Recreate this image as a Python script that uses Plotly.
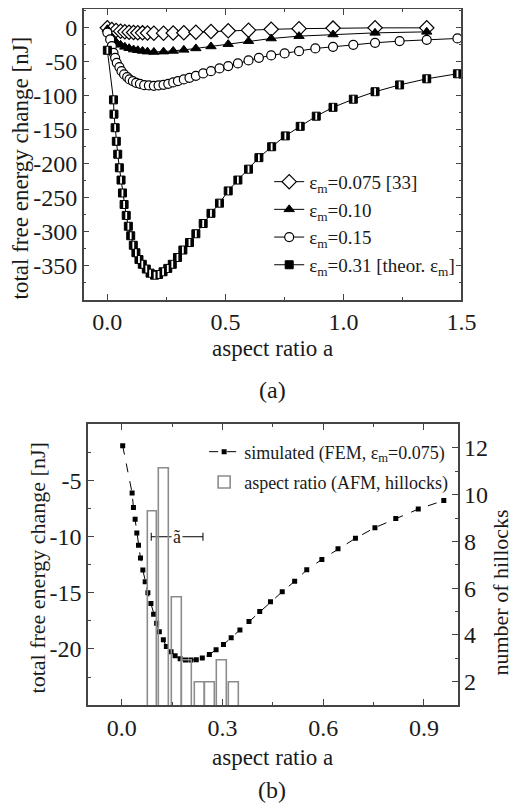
import plotly.graph_objects as go

# ---------------- Panel (a) data ----------------
eps0075_x = [0.0, 0.019, 0.037, 0.056, 0.074, 0.092, 0.111, 0.129, 0.149, 0.17, 0.197, 0.238,
             0.279, 0.324, 0.375, 0.439, 0.512, 0.598, 0.694, 0.812, 0.956, 1.134, 1.353]
eps0075_y = [0.0, -2.4, -3.8, -4.9, -5.9, -6.4, -6.8, -7.2, -7.4, -7.6, -7.8, -7.8,
             -7.6, -7.2, -6.4, -5.4, -4.4, -3.4, -2.2, -1.2, -0.4, 0.0, 0.0]

eps010_x = eps0075_x
eps010_y = [-2.0, -14.0, -21.0, -25.0, -28.0, -30.0, -32.0, -33.0, -34.0, -35.0, -35.5, -35.0,
            -34.0, -32.4, -30.3, -27.4, -24.0, -19.6, -15.7, -12.2, -9.8, -7.4, -5.9]

eps015_x = [0.0, 0.012, 0.019, 0.026, 0.033, 0.04, 0.051, 0.06, 0.071, 0.084, 0.094, 0.108,
            0.122, 0.138, 0.156, 0.176, 0.197, 0.217, 0.238, 0.258, 0.279, 0.299, 0.324, 0.348,
            0.375, 0.406, 0.439, 0.475, 0.512, 0.553, 0.598, 0.642, 0.694, 0.751, 0.812, 0.881,
            0.956, 1.042, 1.134, 1.238, 1.353, 1.483]
eps015_y = [-7.0, -17.1, -26.9, -36.8, -44.1, -51.5, -57.8, -63.7, -68.5, -72.5, -75.9, -78.4,
            -80.9, -82.4, -84.3, -84.7, -85.3, -84.7, -83.8, -82.4, -80.3, -78.4, -75.9, -73.5,
            -70.6, -67.1, -63.7, -59.7, -56.3, -52.3, -47.9, -44.1, -40.6, -37.6, -34.3, -30.3,
            -27.9, -25.0, -22.0, -19.5, -17.6, -15.6]

eps031_x = [0.0, 0.026, 0.028, 0.033, 0.038, 0.044, 0.051, 0.058, 0.064, 0.071, 0.080, 0.089,
            0.099, 0.110, 0.121, 0.134, 0.148, 0.165, 0.181, 0.200, 0.217, 0.236, 0.256, 0.275,
            0.297, 0.320, 0.348, 0.375, 0.406, 0.439, 0.475, 0.512, 0.553, 0.598, 0.642, 0.696,
            0.754, 0.817, 0.885, 0.956, 1.042, 1.134, 1.238, 1.353, 1.483]
eps031_y = [-33, -106, -127, -147, -167, -186, -206, -224, -243, -260, -276, -292,
            -306, -320, -331, -341, -348, -355, -361, -364, -363, -359, -354, -348,
            -338, -327, -316, -303, -288, -273, -258, -240, -224, -208, -191, -175,
            -159, -145, -130, -117, -105, -94, -84, -75, -67.6]

a_xticks = [0.0, 0.5, 1.0, 1.5]
a_xticktext = ["0.0", "0.5", "1.0", "1.5"]
a_yticks = [0, -50, -100, -150, -200, -250, -300, -350]
a_yticktext = ["0", "-50", "-100", "-150", "-200", "-250", "-300", "-350"]

# ---------------- Panel (b) data ----------------
fem_x = [0.003, 0.031, 0.035, 0.040, 0.045, 0.050, 0.056, 0.063, 0.070, 0.078, 0.087, 0.095,
         0.104, 0.112, 0.124, 0.133, 0.147, 0.159, 0.174, 0.190, 0.206, 0.222, 0.240, 0.261,
         0.281, 0.303, 0.326, 0.352, 0.379, 0.411, 0.443, 0.478, 0.515, 0.551, 0.596, 0.644,
         0.696, 0.754, 0.816, 0.883, 0.959]
fem_y = [-1.9, -6.1, -7.4, -8.45, -9.67, -10.75, -11.9, -12.97, -14.0, -15.0, -15.95, -16.9,
         -17.7, -18.47, -19.18, -19.77, -20.24, -20.6, -20.86, -20.98, -20.98, -20.95, -20.8, -20.5,
         -20.06, -19.6, -19.0, -18.3, -17.56, -16.67, -15.8, -14.9, -13.97, -12.95, -12.02, -11.08,
         -10.14, -9.19, -8.37, -7.54, -6.77]

hist_x = [0.092, 0.127, 0.164, 0.195, 0.234, 0.264, 0.300, 0.334]
hist_counts = [9.3, 11.1, 5.6, 2.9, 1.95, 1.95, 2.9, 1.95]
hist_width = 0.029

atilde_mean = 0.165
atilde_std = 0.077
atilde_y = -10.0

b_xticks = [0.0, 0.3, 0.6, 0.9]
b_xticktext = ["0.0", "0.3", "0.6", "0.9"]
b_yticks = [-5, -10, -15, -20]
b_yticktext = ["-5", "-10", "-15", "-20"]
b_y2ticks = [2, 4, 6, 8, 10, 12]

FONT = "Liberation Serif, Times New Roman, serif"
AX = "#444444"
TXT = "#1a1a1a"

# the page body has an 8px margin; size the figure to fill the rest of the window
OFF = 8
W, H = 525 - OFF, 805 - OFF


def px_x(p):
    return (p - OFF) / W


def px_y(p):
    return 1 - (p - OFF) / H


fig = go.Figure()

# panel (a) traces
fig.add_trace(go.Scatter(
    x=eps0075_x, y=eps0075_y, mode="lines+markers", name="ε<sub>m</sub>=0.075 [33]",
    line=dict(color="black", width=1),
    marker=dict(symbol="diamond", size=11, color="white", line=dict(color="black", width=1.2)),
    xaxis="x", yaxis="y", legend="legend", legendgroup="a1"))
fig.add_trace(go.Scatter(
    x=eps010_x, y=eps010_y, mode="lines+markers", name="ε<sub>m</sub>=0.10",
    line=dict(color="black", width=1),
    marker=dict(symbol="triangle-up", size=9, color="black", line=dict(color="black", width=1)),
    xaxis="x", yaxis="y", legend="legend", legendgroup="a2"))
fig.add_trace(go.Scatter(
    x=eps015_x, y=eps015_y, mode="lines+markers", name="ε<sub>m</sub>=0.15",
    line=dict(color="black", width=1),
    marker=dict(symbol="circle", size=9, color="white", line=dict(color="black", width=1.2)),
    xaxis="x", yaxis="y", legend="legend", legendgroup="a3"))
fig.add_trace(go.Scatter(
    x=eps031_x, y=eps031_y, mode="lines+markers", name="ε<sub>m</sub>=0.31 [theor. ε<sub>m</sub>]",
    line=dict(color="black", width=1),
    marker=dict(symbol="square", size=8, color="black", line=dict(color="black", width=1)),
    xaxis="x", yaxis="y", legend="legend", legendgroup="a4"))
fig.add_trace(go.Scatter(
    x=eps031_x, y=eps031_y, mode="markers", showlegend=False, hoverinfo="skip",
    marker=dict(symbol="line-ns", size=5, color="white", line=dict(color="white", width=1.8)),
    xaxis="x", yaxis="y", legendgroup="a4"))

# panel (b) traces
fig.add_trace(go.Scatter(
    x=[atilde_mean], y=[atilde_y], mode="markers", showlegend=False, hoverinfo="skip",
    marker=dict(size=1, color="rgba(0,0,0,0)"),
    error_x=dict(type="data", array=[atilde_std], color="black", thickness=1, width=4),
    xaxis="x2", yaxis="y2"))
fig.add_trace(go.Scatter(
    x=fem_x, y=fem_y, mode="lines+markers", name="simulated (FEM, ε<sub>m</sub>=0.075)",
    line=dict(color="black", width=1, dash="dash"),
    marker=dict(symbol="square", size=5, color="black"),
    xaxis="x2", yaxis="y2", legend="legend2", legendgroup="b1"))
fig.add_trace(go.Bar(
    x=hist_x, y=hist_counts, width=hist_width, name="aspect ratio (AFM, hillocks)",
    marker=dict(color="rgba(0,0,0,0)", line=dict(color="#8c8c8c", width=1.6)),
    xaxis="x2", yaxis="y3", legend="legend2", legendgroup="b2"))

axis_common = dict(
    showline=True, linecolor=AX, linewidth=1.5, ticks="inside", ticklen=6, tickwidth=1.3,
    tickcolor=AX, showgrid=False, zeroline=False,
    tickfont=dict(family=FONT, size=24, color=TXT),
)

fig.update_layout(
    width=W, height=H, margin=dict(l=0, r=0, t=0, b=0),
    paper_bgcolor="white", plot_bgcolor="white",
    font=dict(family=FONT, color=TXT),
    xaxis=dict(axis_common, domain=[px_x(86), px_x(475)], range=[-0.1, 1.5], anchor="y",
               tickvals=a_xticks, ticktext=a_xticktext, mirror="ticks",
               minor=dict(dtick=0.25, tick0=0, ticks="inside", ticklen=3, tickcolor=AX, tickwidth=1.2)),
    yaxis=dict(axis_common, domain=[px_y(299), px_y(8.5)], range=[-400, 27], anchor="x",
               tickvals=a_yticks, ticktext=a_yticktext, mirror="ticks",
               minor=dict(dtick=25, tick0=0, ticks="inside", ticklen=3, tickcolor=AX, tickwidth=1.2)),
    xaxis2=dict(axis_common, domain=[px_x(90.5), px_x(471)], range=[-0.1, 1.0], anchor="y2",
                tickvals=b_xticks, ticktext=b_xticktext, mirror="ticks",
                minor=dict(dtick=0.15, tick0=0, ticks="inside", ticklen=3, tickcolor=AX, tickwidth=1.2)),
    yaxis2=dict(axis_common, domain=[px_y(705), px_y(424)], range=[-25, 0], anchor="x2",
                tickvals=b_yticks, ticktext=b_yticktext,
                minor=dict(dtick=2.5, tick0=0, ticks="inside", ticklen=3, tickcolor=AX, tickwidth=1.2)),
    yaxis3=dict(axis_common, domain=[px_y(705), px_y(424)], range=[1, 13], anchor="x2",
                overlaying="y2", side="right", tickvals=b_y2ticks,
                minor=dict(dtick=1, tick0=0, ticks="inside", ticklen=3, tickcolor=AX, tickwidth=1.2)),
    legend=dict(x=px_x(277), y=px_y(162), xanchor="left", yanchor="top",
                bgcolor="rgba(0,0,0,0)", borderwidth=0, tracegroupgap=0,
                font=dict(family=FONT, size=19, color=TXT), itemwidth=30),
    legend2=dict(x=px_x(210), y=px_y(433), xanchor="left", yanchor="top",
                 bgcolor="rgba(0,0,0,0)", borderwidth=0, tracegroupgap=4,
                 font=dict(family=FONT, size=18, color=TXT), itemwidth=30),
    bargap=0,
    showlegend=True,
)

annots = [
    dict(text="aspect ratio a", x=px_x(280), y=px_y(348), size=23),
    dict(text="(a)", x=px_x(280), y=px_y(389), size=24),
    dict(text="aspect ratio a", x=px_x(280), y=px_y(757), size=23),
    dict(text="(b)", x=px_x(280), y=px_y(790), size=24),
]
for a in annots:
    fig.add_annotation(text=a["text"], x=a["x"], y=a["y"], xref="paper", yref="paper",
                       showarrow=False, xanchor="center", yanchor="middle",
                       font=dict(family=FONT, size=a["size"], color=TXT))

fig.add_annotation(text="total free energy change [nJ]", x=px_x(21), y=px_y(167), xref="paper",
                   yref="paper", showarrow=False, textangle=-90, xanchor="center", yanchor="middle",
                   font=dict(family=FONT, size=23, color=TXT))
fig.add_annotation(text="total free energy change [nJ]", x=px_x(38), y=px_y(568), xref="paper",
                   yref="paper", showarrow=False, textangle=-90, xanchor="center", yanchor="middle",
                   font=dict(family=FONT, size=22, color=TXT))
fig.add_annotation(text="number of hillocks", x=px_x(515), y=px_y(592), xref="paper",
                   yref="paper", showarrow=False, textangle=-90, xanchor="center", yanchor="middle",
                   font=dict(family=FONT, size=22, color=TXT))
fig.add_annotation(text="ã", x=atilde_mean, y=atilde_y, xref="x2", yref="y2", showarrow=False,
                   xanchor="center", yanchor="middle", bgcolor="white", borderpad=1,
                   font=dict(family=FONT, size=18, color=TXT))

fig.write_html("out.html")
